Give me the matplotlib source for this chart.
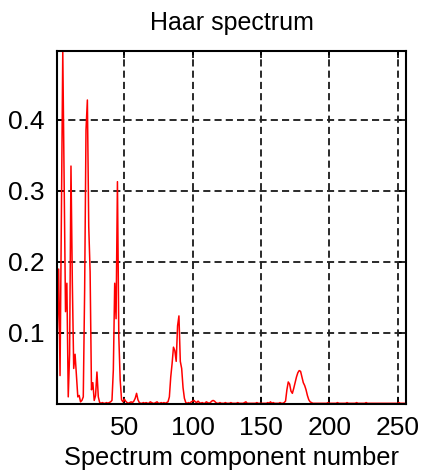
# Haar spectrum recreation
import numpy as np
import matplotlib
matplotlib.use("Agg")
import matplotlib.pyplot as plt

# spectrum component numbers 1..256
components = np.arange(1, 257)

# spectrum magnitudes
spectrum = [
    0.10, 0.19, 0.04, 0.27, 0.497, 0.31, 0.13, 0.17, 0.01, 0.07, 0.335, 0.17, 0.05, 0.07, 0.04, 0.01,
    0.012, 0.003, 0.005, 0.01, 0.16, 0.386, 0.428, 0.25, 0.186, 0.02, 0.03, 0.005, 0.012, 0.045, 0.01, 0.002,
    0.001, 0.002, 0.001, 0.001, 0.002, 0.001, 0.002, 0.003, 0.005, 0.048, 0.17, 0.12, 0.313, 0.095, 0.034, 0.006,
    0.003, 0.007, 0.004, 0.002, 0.001, 0.002, 0.003, 0.002, 0.004, 0.008, 0.015, 0.006, 0.002, 0.001, 0.001, 0.002,
    0.001, 0.002, 0.001, 0.001, 0.003, 0.002, 0.001, 0.001, 0.002, 0.003, 0.001, 0.001, 0.002, 0.001, 0.002, 0.001,
    0.002, 0.003, 0.01, 0.038, 0.057, 0.08, 0.075, 0.06, 0.11, 0.124, 0.06, 0.05, 0.023, 0.008, 0.002, 0.001,
    0.002, 0.001, 0.003, 0.004, 0.005, 0.003, 0.002, 0.004, 0.002, 0.001, 0.002, 0.001, 0.001, 0.003, 0.002, 0.001,
    0.002, 0.004, 0.005, 0.004, 0.002, 0.001, 0.001, 0.002, 0.001, 0.001, 0.001, 0.002, 0.001, 0.001, 0.001, 0.002,
    0.001, 0.001, 0.001, 0.001, 0.002, 0.001, 0.001, 0.001, 0.001, 0.002, 0.003, 0.001, 0.001, 0.001, 0.001, 0.001,
    0.001, 0.001, 0.002, 0.001, 0.001, 0.001, 0.001, 0.001, 0.001, 0.001, 0.002, 0.001, 0.003, 0.001, 0.002, 0.001,
    0.001, 0.001, 0.001, 0.002, 0.001, 0.001, 0.002, 0.004, 0.02, 0.031, 0.028, 0.018, 0.015, 0.022, 0.03, 0.038,
    0.044, 0.047, 0.046, 0.038, 0.03, 0.026, 0.02, 0.012, 0.006, 0.003, 0.002, 0.001, 0.001, 0.001, 0.001, 0.001,
    0.001, 0.001, 0.001, 0.001, 0.001, 0.001, 0.002, 0.001, 0.001, 0.001, 0.001, 0.001, 0.001, 0.002, 0.001, 0.001,
    0.001, 0.001, 0.001, 0.001, 0.002, 0.001, 0.001, 0.001, 0.001, 0.001, 0.001, 0.002, 0.001, 0.001, 0.001, 0.001,
    0.001, 0.001, 0.002, 0.001, 0.001, 0.001, 0.001, 0.001, 0.001, 0.001, 0.001, 0.001, 0.001, 0.001, 0.001, 0.001,
    0.001, 0.001, 0.001, 0.001, 0.001, 0.001, 0.001, 0.001, 0.001, 0.001, 0.002, 0.001, 0.001, 0.001, 0.001, 0.001,
]

x_ticks = [50, 100, 150, 200, 250]
y_ticks = [0.1, 0.2, 0.3, 0.4]

plt.rcParams['font.family'] = ['Liberation Sans', 'DejaVu Sans']

fig = plt.figure(figsize=(4.22, 4.76), dpi=100)
ax = fig.add_axes([0.1358, 0.1513, 0.8258, 0.7416])

# spectrum line
ax.plot(components, spectrum, color='red', linewidth=1.1)

# axis range (tight like the original)
ax.set_xlim(1, 256)
ax.set_ylim(0, max(spectrum))

ax.set_xticks(x_ticks)
ax.set_yticks(y_ticks)
ax.set_yticklabels([f"{v:.1f}" for v in y_ticks])

# dashed grid
ax.grid(True, color='#222222', linestyle=(0, (3.8, 2.2)), linewidth=1.35)
ax.set_axisbelow(True)

# box with inward ticks on every side
ax.tick_params(direction='in', top=True, right=True, length=5, width=1.2,
               labelsize=19, pad=9, colors='black')
for s in ax.spines.values():
    s.set_linewidth(1.5)
    s.set_zorder(3)

ax.set_title('Haar spectrum', fontsize=18, pad=15)
ax.set_xlabel('Spectrum component number', fontsize=18.3, labelpad=4)

fig.savefig('out.png', dpi=100)
